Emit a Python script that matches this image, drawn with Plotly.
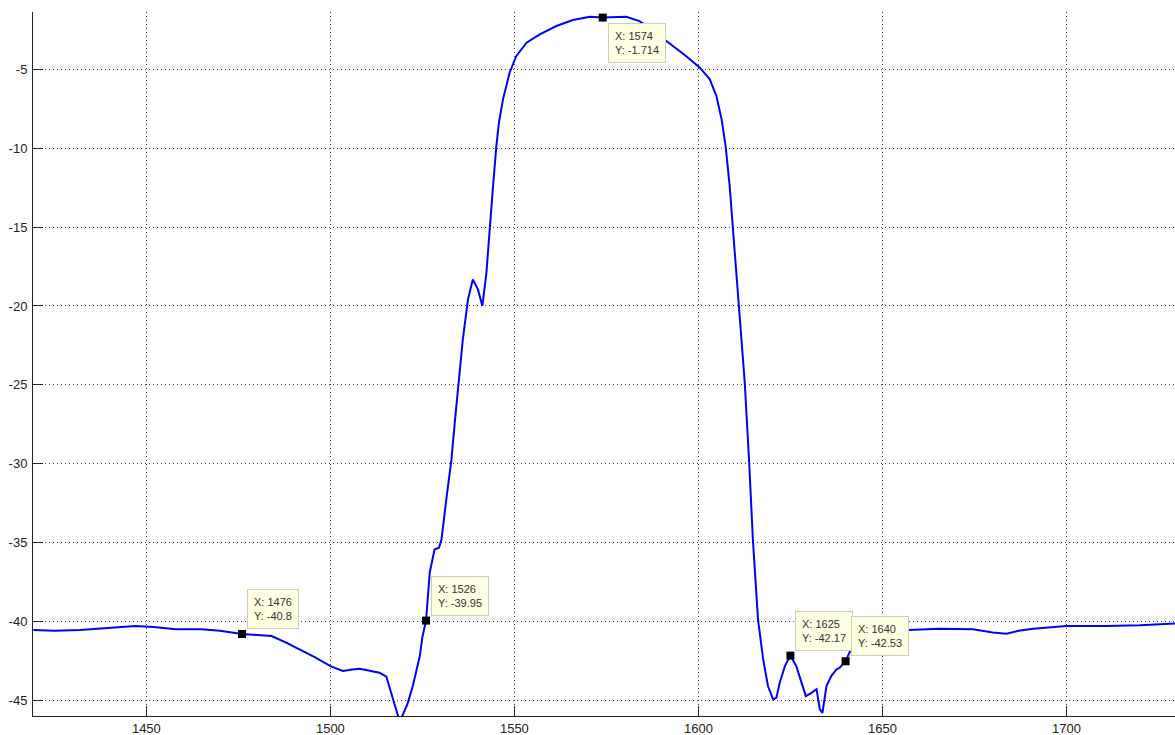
import plotly.graph_objects as go

# Spectrum curve
wavelength = [
    1419.3, 1425, 1432, 1440, 1447, 1452, 1458, 1465, 1470, 1476, 1480, 1484,
    1488, 1492, 1496, 1500, 1503.4, 1506, 1508, 1511, 1513.4, 1515.2, 1516.5,
    1517.5, 1518.4, 1519, 1519.7, 1521, 1522.4, 1524.3, 1525, 1526, 1527,
    1527.9, 1528.3, 1529.5, 1530.2, 1531.5, 1532.9, 1533.8, 1535.1, 1536,
    1537.4, 1538.7, 1540.1, 1541.3, 1542.4, 1543.3, 1544.2, 1545.1, 1545.8,
    1546.9, 1548.7, 1550.5, 1553.3, 1556.9, 1561.4, 1565.9, 1570.5, 1574,
    1580.4, 1584, 1587.5, 1591.3, 1596.7, 1600.4, 1602.2, 1603.1, 1604.9,
    1606.3, 1607.4, 1608.5, 1609.4, 1610.3, 1611.2, 1612, 1612.6, 1613.8,
    1614.8, 1616.2, 1617.6, 1618.9, 1620.3, 1621.2, 1622.1, 1623.5, 1625,
    1626.6, 1628, 1629.2, 1630.7, 1632.1, 1633, 1633.7, 1634.8, 1636.1,
    1637.5, 1638.4, 1640, 1641.2, 1645, 1650, 1657, 1665.6, 1674.6, 1680,
    1683.7, 1687, 1691, 1700, 1710.9, 1720, 1729.5,
]
power = [
    -40.55, -40.6, -40.55, -40.4, -40.3, -40.35, -40.5, -40.5, -40.6, -40.8,
    -40.85, -40.93, -41.35, -41.8, -42.3, -42.84, -43.15, -43.05, -43.0,
    -43.15, -43.26, -43.5, -44.5, -45.4, -46.0, -46.3, -45.9, -45.2, -44.1,
    -42.2, -41.0, -39.95, -36.9, -35.86, -35.44, -35.33, -34.8, -32.27,
    -29.73, -27.4, -24.23, -22.1, -19.58, -18.32, -18.95, -20.0, -17.9,
    -14.94, -12.4, -9.86, -8.38, -6.9, -5.21, -4.16, -3.31, -2.78, -2.25,
    -1.87, -1.66, -1.714, -1.66, -1.94, -2.5, -3.2, -4.16, -4.89, -5.42,
    -5.63, -6.69, -8.17, -9.86, -12.4, -15.15, -17.9, -20.64, -23.28, -24.87,
    -29.94, -34.8, -39.88, -42.41, -44.1, -44.95, -44.84, -43.89, -42.84,
    -42.17, -42.84, -43.89, -44.74, -44.53, -44.3, -45.58, -45.8, -44.1,
    -43.47, -43.05, -42.94, -42.53, -41.9, -41.0, -40.6, -40.55, -40.47,
    -40.5, -40.7, -40.78, -40.6, -40.47, -40.3, -40.3, -40.25, -40.13,
]

# Data tips
tip_x = [1476, 1526, 1574, 1625, 1640]
tip_y = [-40.8, -39.95, -1.714, -42.17, -42.53]
tip_labels = ["X: 1476<br>Y: -40.8", "X: 1526<br>Y: -39.95", "X: 1574<br>Y: -1.714",
              "X: 1625<br>Y: -42.17", "X: 1640<br>Y: -42.53"]
tip_below = [False, False, True, False, False]

x_ticks = [1450, 1500, 1550, 1600, 1650, 1700]
y_ticks = [-45, -40, -35, -30, -25, -20, -15, -10, -5]

fig = go.Figure()
fig.add_trace(go.Scatter(x=wavelength, y=power, mode="lines",
                         line=dict(color="rgb(0,0,255)", width=2),
                         hoverinfo="skip", showlegend=False))
fig.add_trace(go.Scatter(x=tip_x, y=tip_y, mode="markers",
                         marker=dict(symbol="square", size=8, color="black"),
                         hoverinfo="skip", showlegend=False))

for xv, yv, lab, below in zip(tip_x, tip_y, tip_labels, tip_below):
    fig.add_annotation(x=xv, y=yv, xref="x", yref="y", text=lab, showarrow=False,
                       xanchor="left", yanchor="top" if below else "bottom",
                       xshift=5, yshift=-5 if below else 5, align="left",
                       font=dict(family="Liberation Sans, Arial", size=11, color="#333333"),
                       bgcolor="rgb(255,255,225)", bordercolor="rgb(205,205,190)",
                       borderwidth=1, borderpad=6)

axis_common = dict(showline=True, linecolor="#222222", linewidth=1, mirror=False,
                   ticks="inside", ticklen=10, tickcolor="#222222", tickwidth=1,
                   showgrid=True, gridcolor="rgba(30,30,30,0.85)", gridwidth=1,
                   griddash="1px,3px", zeroline=False, automargin=False,
                   tickfont=dict(family="Liberation Sans, Arial", size=13, color="#222222"))

fig.update_xaxes(range=[1419.2, 1729.5], tickvals=x_ticks,
                 ticktext=[str(v) for v in x_ticks], ticklabelstandoff=0, **axis_common)
fig.update_yaxes(range=[-46, -1.36], tickvals=y_ticks,
                 ticktext=[str(v) for v in y_ticks], ticklabelstandoff=2, **axis_common)

fig.update_layout(width=1175, height=735, margin=dict(l=33, r=0, t=12, b=19),
                  paper_bgcolor="white", plot_bgcolor="white", hovermode=False)

# remove the page's default body margin so the figure fills the window exactly
fig.write_html("out.html", config={"displayModeBar": False, "staticPlot": True},
               post_script="document.body.style.margin='0';document.body.style.overflow='hidden';")
